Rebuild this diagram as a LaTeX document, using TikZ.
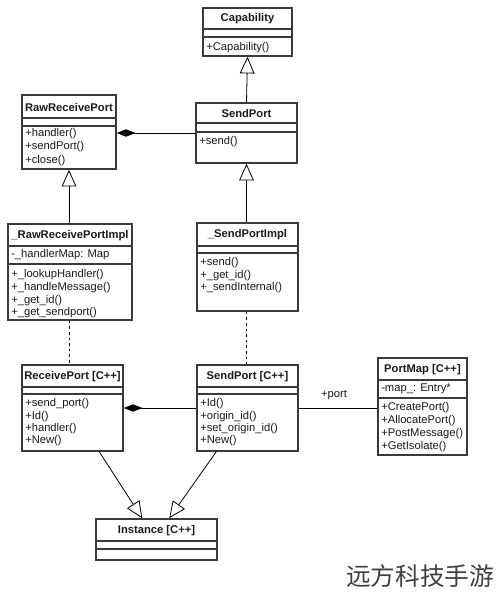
\documentclass[tikz,border=0pt]{standalone}
\usepackage{fontspec}
\setmainfont{Liberation Sans}
\newfontfamily\cjkfont{Noto Sans CJK SC}
\usetikzlibrary{arrows.meta,fit,calc}
\definecolor{bordc}{HTML}{3A3A3A}
\definecolor{txtc}{HTML}{1A1A1A}
\tikzset{
  umlbox/.style={draw=bordc, line width=1.1pt, fill=white, inner sep=0pt},
  sepline/.style={draw=bordc, line width=1pt},
  txt/.style={font=\fontsize{8.4}{9.2}\selectfont, text=txtc, inner sep=0pt},
  ttl/.style={font=\fontsize{8.4}{9.2}\selectfont\bfseries, text=txtc, inner sep=0pt},
  gen/.style={draw=black, line width=0.6pt, -{Triangle[open, fill=white, length=12.5pt, width=11pt]}},
  comp/.style={draw=black, line width=0.6pt, -{Diamond[fill=black, length=14pt, width=5.5pt]}},
  assoc/.style={draw=black, line width=0.6pt},
  realz/.style={draw=black, line width=0.6pt, dash pattern=on 2pt off 2.2pt},
}
% name, x1, y1, x2, y2, header-line y, second-line y, title
\newcommand\umlclass[8]{%
  \node[umlbox, fit={(#2,#3)(#4,#5)}] (#1) {};
  \draw[sepline] (#2,#6) -- (#4,#6);
  \draw[sepline] (#2,#7) -- (#4,#7);
  \node[ttl] (#1-t) at ({(#2+#4)/2},{(#3+#6)/2+0.5}) {#8};
}
% prefix, x, first y, spacing, list
\newcommand\umlrows[5]{%
  \foreach \t [count=\i] in {#5} {
    \node[txt, anchor=west] (#1-\i) at (#2,{#3+(\i-1)*#4}) {\t};
  }
}
\begin{document}
\begin{tikzpicture}[x=0.75pt,y=-0.75pt]
\useasboundingbox (0,0) rectangle (500,594);

% classes
\umlclass{cap}{203}{8}{292}{56}{29}{37}{Capability}
\umlrows{capm}{206}{47.5}{12.3}{+Capability()}

\umlclass{rrp}{22}{95}{116}{169}{118}{126}{RawReceivePort}
\umlrows{rrpm}{25}{133.5}{13.3}{+handler(),+sendPort(),+close()}

\umlclass{sp}{196}{103}{297}{163}{123}{132}{SendPort}
\umlrows{spm}{199}{142}{12.3}{+send()}

\umlclass{rrpi}{8}{224}{132}{320}{246}{264}{\_RawReceivePortImpl}
\umlrows{rrpia}{11}{254.5}{12.3}{-\_handlerMap: Map}
\umlrows{rrpim}{11}{274.5}{12.8}{+\_lookupHandler(),+\_handleMessage(),+\_get\_id(),+\_get\_sendport()}

\umlclass{spi}{197}{223}{298}{311}{246}{253}{\_SendPortImpl}
\umlrows{spim}{200}{263}{12.2}{+send(),+\_get\_id(),+\_sendInternal()}

\umlclass{rpc}{22}{365}{123}{451}{387}{394}{ReceivePort [C++]}
\umlrows{rpcm}{25}{404}{12.1}{+send\_port(),+Id(),+handler(),+New()}

\umlclass{spc}{197}{365}{298}{451}{387}{394}{SendPort [C++]}
\umlrows{spcm}{200}{404}{12.1}{+Id(),+origin\_id(),+set\_origin\_id(),+New()}

\umlclass{pm}{378}{358}{467}{455}{380}{398}{PortMap [C++]}
\umlrows{pma}{381}{389}{12.3}{-map\_: Entry*}
\umlrows{pmm}{381}{407.5}{12.9}{+CreatePort(),+AllocatePort(),+PostMessage(),+GetIsolate()}

\umlclass{inst}{96}{519}{217}{560}{541}{549}{Instance [C++]}

% connectors
\draw[gen] (sp.north) -- (cap.south);
\draw[comp] (sp.west) -- (sp.west -| rrp.east);
\draw[gen] (rrpi.north -| rrp.south) -- (rrp.south);
\draw[gen] (spi.north -| sp.south) -- (sp.south);
\draw[realz] (rrpi.south -| rrp.south) -- (rpc.north -| rrp.south);
\draw[realz] (spi.south -| sp.south) -- (spc.north -| sp.south);
\draw[comp] (spc.west) -- (spc.west -| rpc.east);
\draw[assoc] (spc.east) -- (spc.east -| pm.west) node[txt, pos=0.45, above=6pt] (portlbl) {+port};
\draw[gen] ([xshift=58.5pt]rpc.south west) -- ([xshift=35.25pt]inst.north west);
\draw[gen] ([xshift=15pt]spc.south west) -- ([xshift=55.5pt]inst.north west);

% watermark
\node[font=\cjkfont\fontsize{18.5}{20}\selectfont, text=black!75, anchor=west, inner sep=0pt] (wm) at (346,576) {远方科技手游};
\end{tikzpicture}
\end{document}
